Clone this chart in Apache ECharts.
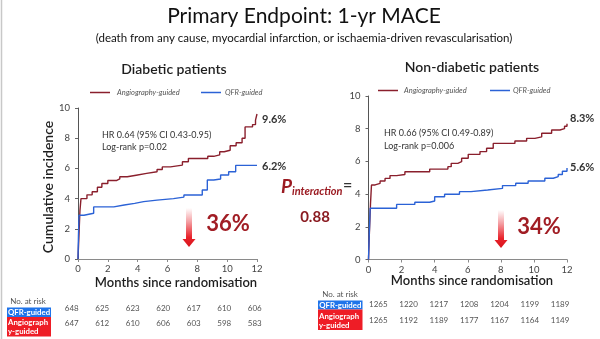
<!DOCTYPE html>
<html>
<head>
<meta charset="utf-8">
<script src="https://cdn.jsdelivr.net/npm/echarts@6/dist/echarts.min.js"></script>
<style>
  html, body { margin: 0; padding: 0; background: #fff; }
  #chart { width: 600px; height: 339px; }
</style>
</head>
<body>
<div id="chart"></div>
<script>
// Cumulative incidence of 1-yr MACE, [months since randomisation, %]
const diabeticAngio = [[0,0],[0.06,1.5],[0.13,3.2],[0.2,4.0],[0.6,4.25],[0.95,4.45],[1.3,4.75],[1.6,5.0],[2.0,5.2],[2.6,5.3],[2.8,5.45],[3.3,5.55],[3.9,5.67],[4.6,5.78],[5.3,5.93],[5.65,6.1],[6.2,6.22],[7.0,6.44],[7.4,6.66],[8.7,6.8],[9.1,6.9],[9.5,7.1],[9.8,7.2],[10.2,7.5],[10.6,7.7],[11.0,8.0],[11.2,8.75],[11.7,8.9],[11.9,9.2],[12,9.6]];
const diabeticQfr = [[0,0],[0.03,1.5],[0.07,2.9],[0.4,3.03],[1.05,3.45],[2.4,3.58],[3.1,3.68],[3.8,3.8],[4.4,3.9],[5.3,4.0],[6.4,4.1],[7.1,4.24],[8.33,4.57],[8.67,5.23],[9.1,5.3],[9.56,5.56],[10.1,5.78],[10.57,6.2],[12,6.2]];
const nonDiabeticAngio = [[0,0],[0.05,1.5],[0.12,3.4],[0.18,4.56],[0.4,4.66],[0.7,4.8],[1.0,4.96],[1.3,5.13],[1.7,5.2],[2.2,5.37],[3.7,5.53],[4.8,5.68],[5.0,5.88],[5.4,5.98],[5.63,6.19],[6.03,6.43],[6.74,6.6],[7.14,6.8],[7.54,7.1],[8.85,7.25],[9.56,7.41],[10.06,7.5],[10.47,7.72],[11.07,7.92],[11.57,8.0],[11.85,8.15],[12,8.3]];
const nonDiabeticQfr = [[0,0],[0.04,1.4],[0.1,3.13],[1.7,3.37],[2.8,3.5],[3.7,3.58],[4.0,3.84],[4.6,3.99],[5.5,4.15],[6.2,4.25],[7.2,4.35],[8.1,4.52],[8.9,4.66],[9.65,4.8],[10.66,4.97],[11.17,5.07],[11.47,5.2],[11.72,5.4],[12,5.6]];

// Number at risk, months 0, 2, 4, ... 12
const riskDiabeticQfr = [648, 625, 623, 620, 617, 610, 606];
const riskDiabeticAngio = [647, 612, 610, 606, 603, 598, 583];
const riskNonDiabeticQfr = [1265, 1220, 1217, 1208, 1204, 1199, 1189];
const riskNonDiabeticAngio = [1265, 1192, 1189, 1177, 1167, 1164, 1149];

const hrDiabetic = ['HR 0.64 (95% CI 0.43-0.95)', 'Log-rank p=0.02'];
const hrNonDiabetic = ['HR 0.66 (95% CI 0.49-0.89)', 'Log-rank p=0.006'];
const reductions = ['36%', '34%'];
const pInteraction = '0.88';

const ANGIO = '#8a1f2c';
const QFR = '#2b62d6';
const DARKRED = '#a11d24';
const FONT = 'Lato, "Open Sans", sans-serif';

const chart = echarts.init(document.getElementById('chart'), null, { renderer: 'canvas' });

function xAx(gi) {
  return {
    type: 'value', gridIndex: gi, min: 0, max: 12, interval: 2,
    axisLine: { lineStyle: { color: '#8a8a8a', width: 1 } },
    axisTick: { show: true, length: 3, lineStyle: { color: '#8a8a8a' } },
    axisLabel: { fontSize: 9.5, color: '#444', margin: 5, fontFamily: FONT },
    splitLine: { show: false }
  };
}
function yAx(gi) {
  return {
    type: 'value', gridIndex: gi, min: 0, max: 10, interval: 2,
    axisLine: { show: true, lineStyle: { color: '#555', width: 1 } },
    axisTick: { show: true, length: 3, lineStyle: { color: '#666' } },
    axisLabel: { fontSize: 9.5, color: '#444', margin: 8, fontFamily: FONT },
    splitLine: { show: false }
  };
}
function curve(name, data, gi, color, offset) {
  return {
    name, type: 'line', step: 'end', data, xAxisIndex: gi, yAxisIndex: gi,
    showSymbol: false, silent: true, animation: false,
    lineStyle: { color, width: 1.4 },
    endLabel: {
      show: true, distance: 3, offset,
      formatter: p => p.value[1].toFixed(1) + '%',
      fontSize: 11, fontWeight: 'bold', color: '#333', fontFamily: FONT
    }
  };
}

// Down arrow with a white-to-red fade
function arrow(cx, top, tip) {
  const headY = tip - 8;
  return {
    type: 'polygon',
    shape: { points: [[cx - 3, top], [cx + 3, top], [cx + 3, headY], [cx + 6.5, headY], [cx, tip], [cx - 6.5, headY], [cx - 3, headY]] },
    style: {
      fill: new echarts.graphic.LinearGradient(0, 0, 0, 1, [
        { offset: 0, color: '#ffffff' },
        { offset: 0.35, color: '#f4a0a4' },
        { offset: 0.75, color: '#e8222a' },
        { offset: 1, color: '#d9141c' }
      ])
    }
  };
}

function txt(x, y, text, style) {
  return { type: 'text', x, y, style: Object.assign({ text, fontFamily: FONT, verticalAlign: 'middle' }, style) };
}

function legend(x0, y, tx, bx0, btx) {
  return [
    { type: 'line', shape: { x1: x0, y1: y, x2: x0 + 20, y2: y }, style: { stroke: ANGIO, lineWidth: 1.5 } },
    txt(tx, y, 'Angiography-guided', { fontSize: 7.5, fontStyle: 'italic', fill: '#555' }),
    { type: 'line', shape: { x1: bx0, y1: y, x2: bx0 + 20, y2: y }, style: { stroke: QFR, lineWidth: 1.5 } },
    txt(btx, y, 'QFR-guided', { fontSize: 7.5, fontStyle: 'italic', fill: '#555' })
  ];
}

function riskTable(o) {
  const els = [
    txt(o.labelCx, o.headY, 'No. at risk', { fontSize: 8, fill: '#555', align: 'center' }),
    { type: 'rect', shape: { x: o.boxX, y: o.blueY, width: o.boxW, height: o.blueH }, style: { fill: '#1f74ea' } },
    { type: 'rect', shape: { x: o.boxX, y: o.blueY + o.blueH, width: o.boxW, height: o.redH }, style: { fill: '#ee1d26' } },
    txt(o.boxX + o.boxW / 2, o.blueY + o.blueH / 2, 'QFR-guided', { fontSize: 7.8, fontWeight: 'bold', fill: '#fff', align: 'center' }),
    txt(o.boxX + 1, o.red1Y, 'Angiograph', { fontSize: 7.8, fontWeight: 'bold', fill: '#fff' }),
    txt(o.boxX + 1, o.red2Y, 'y-guided', { fontSize: 7.8, fontWeight: 'bold', fill: '#fff' })
  ];
  o.qfr.forEach((v, i) => els.push(txt(o.numX + i * o.step, o.qfrY, String(v), { fontSize: 8, fill: '#555', align: 'center' })));
  o.angio.forEach((v, i) => els.push(txt(o.numX + i * o.step, o.angioY, String(v), { fontSize: 8, fill: '#555', align: 'center' })));
  return els;
}

const graphics = [
  { type: 'line', shape: { x1: 1.5, y1: 0, x2: 1.5, y2: 339 }, style: { stroke: '#c8c8c8', lineWidth: 1.5 } },
  txt(304, 16, 'Primary Endpoint: 1-yr MACE', { fontSize: 21, fill: '#111', align: 'center' }),
  txt(304, 38, '(death from any cause, myocardial infarction, or ischaemia-driven revascularisation)', { fontSize: 11.5, fill: '#111', align: 'center' }),
  txt(174, 69, 'Diabetic patients', { fontSize: 14, fontWeight: 600, fill: '#1e1e1e', align: 'center' }),
  txt(472, 67, 'Non-diabetic patients', { fontSize: 14, fontWeight: 600, fill: '#1e1e1e', align: 'center' }),
  ...legend(90, 92.5, 117, 201, 225),
  ...legend(378, 90.5, 404, 490, 513),
  txt(102, 135, hrDiabetic[0], { fontSize: 9, fill: '#333' }),
  txt(102, 147, hrDiabetic[1], { fontSize: 9, fill: '#333' }),
  txt(384, 133, hrNonDiabetic[0], { fontSize: 9, fill: '#333' }),
  txt(384, 146, hrNonDiabetic[1], { fontSize: 9, fill: '#333' }),
  { type: 'text', x: 48, y: 187, rotation: Math.PI / 2,
    style: { text: 'Cumulative incidence', fontFamily: FONT, fontSize: 14, fontWeight: 600, fill: '#1e1e1e', align: 'center', verticalAlign: 'middle' } },
  txt(176, 283, 'Months since randomisation', { fontSize: 13, fontWeight: 600, fill: '#1e1e1e', align: 'center' }),
  txt(472, 281, 'Months since randomisation', { fontSize: 13, fontWeight: 600, fill: '#1e1e1e', align: 'center' }),
  txt(281, 187, 'P', { fontSize: 19, fontWeight: 'bold', fontStyle: 'italic', fill: '#9b1b22' }),
  txt(292, 191, 'interaction', { fontSize: 11, fontWeight: 'bold', fontStyle: 'italic', fill: '#9b1b22' }),
  txt(343, 185, '=', { fontSize: 16, fontWeight: 'bold', fill: '#333' }),
  txt(315, 217, pInteraction, { fontSize: 15, fontWeight: 'bold', fill: '#8b1c22', align: 'center' }),
  arrow(189, 208, 247),
  arrow(501, 210, 248),
  txt(228, 224, reductions[0], { fontSize: 22, fontWeight: 'bold', fill: DARKRED, align: 'center' }),
  txt(539, 227, reductions[1], { fontSize: 22, fontWeight: 'bold', fill: DARKRED, align: 'center' }),
  ...riskTable({ labelCx: 28, headY: 301, boxX: 7, boxW: 44, blueY: 307.5, blueH: 9.5, redH: 19.5,
    red1Y: 322.5, red2Y: 331.5, numX: 71.7, step: 30.5, qfrY: 308, angioY: 323,
    qfr: riskDiabeticQfr, angio: riskDiabeticAngio }),
  ...riskTable({ labelCx: 340, headY: 294.5, boxX: 318, boxW: 44.5, blueY: 300.5, blueH: 9, redH: 20.5,
    red1Y: 316, red2Y: 325.5, numX: 378.3, step: 30.3, qfrY: 304.5, angioY: 320.5,
    qfr: riskNonDiabeticQfr, angio: riskNonDiabeticAngio })
];

chart.setOption({
  backgroundColor: '#ffffff',
  animation: false,
  grid: [
    { left: 78, top: 108, width: 179, height: 151 },
    { left: 368.5, top: 96, width: 198.5, height: 163.5 }
  ],
  xAxis: [xAx(0), xAx(1)],
  yAxis: [yAx(0), yAx(1)],
  series: [
    curve('Angiography-guided', diabeticAngio, 0, ANGIO, [2, 5]),
    curve('QFR-guided', diabeticQfr, 0, QFR, [2, 1]),
    curve('Angiography-guided', nonDiabeticAngio, 1, ANGIO, [0, -5]),
    curve('QFR-guided', nonDiabeticQfr, 1, QFR, [0, 0])
  ],
  graphic: graphics
});
</script>
</body>
</html>
